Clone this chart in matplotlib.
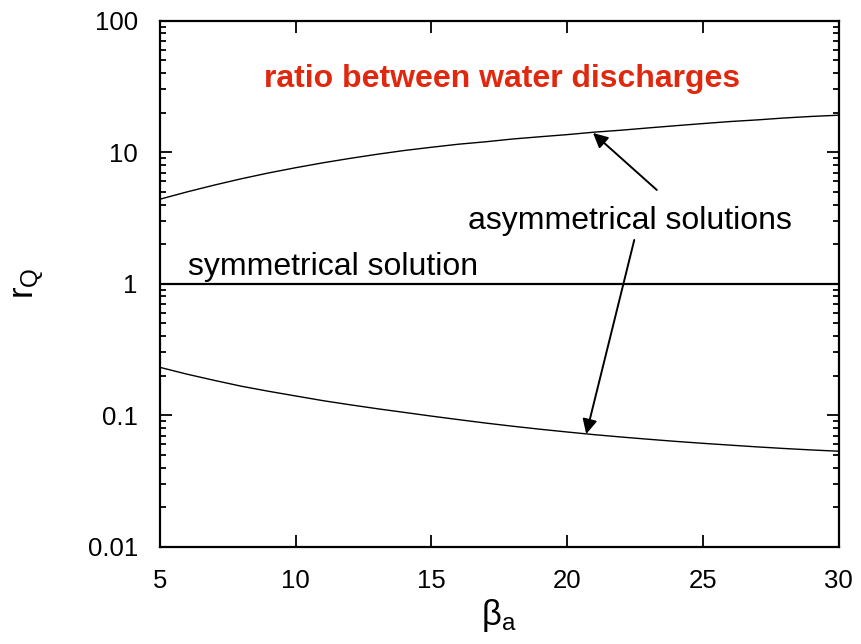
import matplotlib
matplotlib.use('Agg')
import matplotlib.pyplot as plt
from matplotlib.ticker import LogLocator, NullFormatter, FixedLocator

plt.rcParams['font.family'] = ['Liberation Sans', 'DejaVu Sans']
plt.rcParams['mathtext.fontset'] = 'custom'
plt.rcParams['mathtext.rm'] = 'Liberation Sans'
plt.rcParams['mathtext.it'] = 'Liberation Sans'

# beta_a values and discharge ratio for the three branches
beta_a = [5, 6, 7, 8, 9, 10, 11, 12, 13, 14, 15, 16, 17, 18, 19, 20,
          21, 22, 23, 24, 25, 26, 27, 28, 29, 30]
r_upper = [4.39, 4.99, 5.62, 6.28, 6.95, 7.62, 8.30, 8.97, 9.64, 10.3,
           10.9, 11.5, 12.0, 12.6, 13.1, 13.6, 14.2, 14.7, 15.3, 15.9,
           16.5, 17.1, 17.6, 18.2, 18.7, 19.1]
r_lower = [0.231, 0.205, 0.184, 0.166, 0.152, 0.140, 0.129, 0.120, 0.112,
           0.105, 0.0984, 0.0925, 0.0871, 0.0824, 0.0782, 0.0745, 0.0711,
           0.0682, 0.0656, 0.0632, 0.0611, 0.0592, 0.0574, 0.0558, 0.0544,
           0.0532]
beta_sym = [5.0, 30.0]
r_sym = [1.0, 1.0]

xticks = [5, 10, 15, 20, 25, 30]
yticks = [0.01, 0.1, 1, 10, 100]
yticklabels = ['0.01', '0.1', '1', '10', '100']

fig = plt.figure(figsize=(8.61, 6.44), dpi=100)
ax = fig.add_axes([0.1858, 0.1511, 0.7883, 0.8168])

ax.plot(beta_a, r_upper, color='black', lw=1.0)
ax.plot(beta_a, r_lower, color='black', lw=1.0)
ax.plot(beta_sym, r_sym, color='black', lw=1.6)

ax.set_yscale('log')
ax.set_xlim(5, 30)
ax.set_ylim(0.01, 100)
ax.xaxis.set_major_locator(FixedLocator(xticks))
ax.set_yticks(yticks)
ax.set_yticklabels(yticklabels)
ax.yaxis.set_minor_locator(LogLocator(base=10, subs=range(2, 10)))
ax.yaxis.set_minor_formatter(NullFormatter())

ax.tick_params(which='both', direction='in', top=True, right=True, labelsize=18.5, width=1.3)
ax.tick_params(which='major', length=8.5, pad=16)
ax.tick_params(which='minor', length=4.3)
for sp in ax.spines.values():
    sp.set_linewidth(1.6)

ax.set_xlabel(r'$\mathrm{β_a}$', fontsize=25, labelpad=3)
ax.set_ylabel(r'$\mathrm{r_Q}$', fontsize=25, labelpad=30)

ax.text(17.6, 36, 'ratio between water discharges', color='#e0280f',
        fontsize=23, fontweight='bold', ha='center', va='center')
ax.text(22.3, 3.0, 'asymmetrical solutions', fontsize=23, ha='center', va='center')
ax.text(6.03, 1.34, 'symmetrical solution', fontsize=23, ha='left', va='center')

arrow = dict(arrowstyle='-|>', color='black', lw=1.4, mutation_scale=22, shrinkA=0, shrinkB=0)
ax.annotate('', xy=(20.95, 14.0), xytext=(23.3, 5.16), arrowprops=arrow)
ax.annotate('', xy=(20.7, 0.0719), xytext=(22.47, 2.15), arrowprops=arrow)

fig.savefig('out.png', dpi=100)
